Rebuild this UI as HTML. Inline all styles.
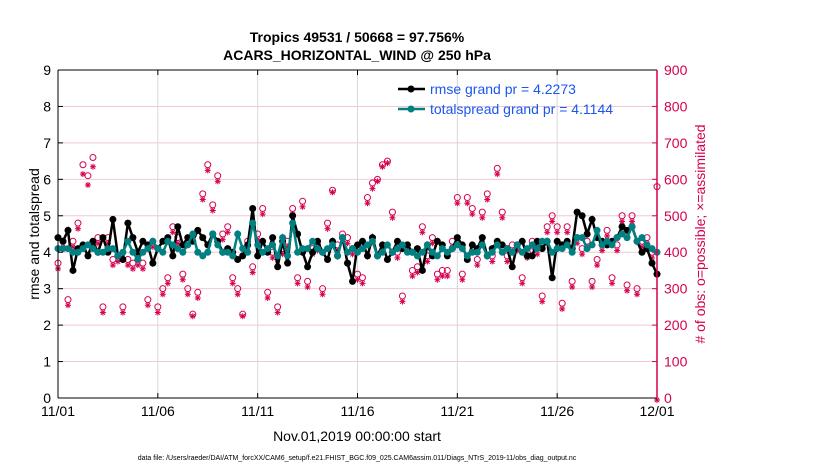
<!DOCTYPE html>
<html><head><meta charset="utf-8"><style>
body{margin:0;background:#fff;}
svg{display:block;font-family:"Liberation Sans",sans-serif;}
</style></head><body>
<svg id="chart" width="830" height="470" viewBox="0 0 830 470">
<g id="grid"></g>
<g id="marks"></g>
<g id="axes"></g>
<text x="357" y="42" text-anchor="middle" font-size="14" font-weight="bold">Tropics 49531 / 50668 = 97.756%</text>
<text x="357" y="60" text-anchor="middle" font-size="14" font-weight="bold">ACARS_HORIZONTAL_WIND @ 250 hPa</text>
<text transform="translate(39,234) rotate(-90)" text-anchor="middle" font-size="14">rmse and totalspread</text>
<text transform="translate(705,234) rotate(-90)" text-anchor="middle" font-size="14" fill="#d6004f"># of obs: o=possible; ×=assimilated</text>
<text x="357" y="441" text-anchor="middle" font-size="14">Nov.01,2019 00:00:00 start</text>
<text x="357" y="460" text-anchor="middle" font-size="7">data file: /Users/raeder/DAI/ATM_forcXX/CAM6_setup/f.e21.FHIST_BGC.f09_025.CAM6assim.011/Diags_NTrS_2019-11/obs_diag_output.nc</text>
<g>
  <line x1="398" y1="89" x2="425" y2="89" stroke="#000" stroke-width="2.5"/>
  <circle cx="411" cy="89" r="3.5" fill="#000"/>
  <text x="430" y="94" font-size="14" fill="#1a56f0">rmse grand pr = 4.2273</text>
  <line x1="398" y1="109" x2="425" y2="109" stroke="#008080" stroke-width="2.5"/>
  <circle cx="411" cy="109" r="3.5" fill="#008080"/>
  <text x="430" y="114" font-size="14" fill="#1a56f0">totalspread grand pr = 4.1144</text>
</g>
</svg>
<script>
const xTickLabels=["11/01","11/06","11/11","11/16","11/21","11/26","12/01"];
const yTicks=[0,1,2,3,4,5,6,7,8,9];
const yRightTicks=[0,100,200,300,400,500,600,700,800,900];
const rmse=[4.4,4.3,4.6,3.5,4.1,4.2,3.9,4.3,4.0,4.4,4.0,4.9,3.9,3.8,4.8,4.4,4.0,4.3,4.2,3.7,4.1,4.3,4.4,3.9,4.7,4.2,4.4,4.3,4.6,4.4,4.2,4.5,4.3,4.0,4.1,4.0,3.8,3.9,4.2,5.2,3.9,4.3,4.0,4.4,3.6,4.3,3.7,5.0,4.5,4.0,3.6,4.0,4.3,4.0,3.8,4.3,3.9,4.4,3.7,3.2,4.2,4.3,3.9,4.4,3.9,4.2,3.8,4.0,4.3,4.1,4.2,4.0,4.1,3.5,4.2,3.9,4.3,4.2,3.9,4.1,4.4,4.2,3.8,4.2,4.1,4.4,3.9,4.1,4.3,4.2,4.1,3.6,4.2,4.3,3.9,3.9,4.3,4.1,4.3,3.3,4.3,4.2,4.3,4.1,5.1,5.0,4.5,4.9,4.4,4.3,4.2,4.3,4.4,4.7,4.6,4.7,4.3,4.0,4.1,3.7,3.4];
const spread=[4.1,4.1,4.1,4.0,4.0,4.1,4.2,4.1,4.0,4.0,4.1,4.1,3.9,4.0,4.3,4.0,3.8,4.0,4.1,4.3,4.1,4.0,4.3,4.2,4.1,4.0,4.2,4.5,4.0,3.9,4.0,4.5,4.2,4.0,4.0,3.9,4.5,4.1,4.0,4.8,4.2,4.0,4.1,4.2,3.9,4.4,3.9,4.8,4.0,4.1,4.1,4.3,4.1,4.0,4.1,4.2,3.9,4.4,4.0,4.1,4.0,4.1,4.2,4.3,3.9,4.0,4.2,4.0,4.1,4.2,4.0,4.0,3.9,4.0,4.2,4.0,3.9,4.1,4.0,4.1,4.2,4.1,3.9,4.0,4.0,4.2,3.9,4.0,4.2,4.0,4.1,4.0,4.2,4.0,4.1,4.2,4.1,4.3,4.3,4.0,4.1,4.1,4.2,4.0,4.4,4.4,4.1,4.2,4.6,4.2,4.3,4.2,4.4,4.5,4.4,4.7,4.3,4.4,4.2,4.1,4.0];
const possible=[370,430,270,430,480,640,610,660,440,250,440,380,390,250,380,370,380,370,270,430,250,300,330,470,440,340,300,230,290,560,640,530,610,450,470,330,300,230,430,360,450,520,290,400,250,410,430,520,330,540,320,410,420,300,480,570,420,450,440,410,340,330,550,590,600,640,650,510,400,280,420,350,360,470,390,440,340,350,350,430,550,340,550,520,380,510,560,390,630,510,390,420,420,330,400,430,410,280,470,500,470,260,470,320,440,410,430,320,380,420,460,330,420,500,310,500,300,430,440,400,580];
const assimilated=[360,420,260,420,470,620,590,640,430,240,430,370,380,240,370,360,370,360,260,420,240,290,320,460,430,330,290,230,280,550,630,520,600,440,460,320,290,230,420,350,440,510,280,390,240,400,420,510,320,530,310,400,410,290,470,570,410,440,430,400,330,320,540,580,600,640,650,500,390,270,410,340,350,460,380,430,330,340,340,420,540,330,540,510,370,500,550,380,620,500,380,410,410,320,390,420,400,270,460,490,460,250,460,310,430,400,420,310,370,410,450,320,410,490,300,490,290,420,430,390,0];

const NS="http://www.w3.org/2000/svg";
const X0=58,X1=657,Y0=398,Y1=70;
const N=rmse.length;
function xs(i){return X0+(X1-X0)*i/(N-1);}
function yl(v){return Y0-(Y0-Y1)*v/9;}
function yr(v){return Y0-(Y0-Y1)*v/900;}
function mk(tag,attrs,parent){const e=document.createElementNS(NS,tag);for(const k in attrs)e.setAttribute(k,attrs[k]);parent.appendChild(e);return e;}
const grid=document.getElementById('grid'),marks=document.getElementById('marks'),axes=document.getElementById('axes');
mk('rect',{x:X0,y:Y1,width:X1-X0,height:Y0-Y1,fill:'#fff'},grid);
yTicks.forEach(v=>{if(v>0&&v<9)mk('line',{x1:X0,x2:X1,y1:yl(v),y2:yl(v),stroke:'#f0c8d6','stroke-width':1},grid);});
xTickLabels.forEach((l,i)=>{const x=X0+(X1-X0)*i/(xTickLabels.length-1);
 if(i>0&&i<xTickLabels.length-1)mk('line',{x1:x,x2:x,y1:Y0,y2:Y1,stroke:'#d8d8d8','stroke-width':1},grid);
 const t=mk('text',{x:x,y:Y0+18,'text-anchor':'middle','font-size':14},axes);t.textContent=l;
 
 
 mk('line',{x1:x,x2:x,y1:Y0,y2:Y0-5,stroke:'#000'},axes);mk('line',{x1:x,x2:x,y1:Y1,y2:Y1+5,stroke:'#000'},axes);});
yTicks.forEach(v=>{const t=mk('text',{x:X0-7,y:yl(v)+5,'text-anchor':'end','font-size':14},axes);t.textContent=v;
 
 
 mk('line',{x1:X0,x2:X0+5,y1:yl(v),y2:yl(v),stroke:'#000'},axes);});
yRightTicks.forEach(v=>{const t=mk('text',{x:X1+7,y:yr(v)+5,'font-size':14,fill:'#d6004f'},axes);t.textContent=v;
 
 
 mk('line',{x1:X1-5,x2:X1,y1:yr(v),y2:yr(v),stroke:'#d6004f'},axes);});
mk('line',{x1:X0,x2:X1,y1:Y1,y2:Y1,stroke:'#000'},axes);
mk('line',{x1:X0,x2:X1,y1:Y0,y2:Y0,stroke:'#000'},axes);
mk('line',{x1:X0,x2:X0,y1:Y1,y2:Y0,stroke:'#000'},axes);
mk('line',{x1:X1,x2:X1,y1:Y1,y2:Y0,stroke:'#d6004f','stroke-width':1.5},axes);
possible.forEach((v,i)=>{const c=mk('circle',{cx:xs(i),cy:yr(v),r:3,fill:'none',stroke:'#d6004f','stroke-width':1},marks);
 
 });
assimilated.forEach((v,i)=>{const x=xs(i),y=yr(v)+2;const g=mk('g',{stroke:'#d6004f','stroke-width':1},marks);
 
 
 mk('line',{x1:x-3,x2:x+3,y1:y,y2:y},g);mk('line',{x1:x,x2:x,y1:y-3,y2:y+3},g);
 mk('line',{x1:x-2.2,x2:x+2.2,y1:y-2.2,y2:y+2.2},g);mk('line',{x1:x-2.2,x2:x+2.2,y1:y+2.2,y2:y-2.2},g);});
const rp=mk('polyline',{points:rmse.map((v,i)=>xs(i)+','+yl(v)).join(' '),fill:'none',stroke:'#000','stroke-width':2.5},marks);


rmse.forEach((v,i)=>{const c=mk('circle',{cx:xs(i),cy:yl(v),r:3.5,fill:'#000'},marks);
 
 });
const sp=mk('polyline',{points:spread.map((v,i)=>xs(i)+','+yl(v)).join(' '),fill:'none',stroke:'#008080','stroke-width':2.5},marks);


spread.forEach((v,i)=>{const c=mk('circle',{cx:xs(i),cy:yl(v),r:3.5,fill:'#008080'},marks);
 
 });
</script>
</body></html>
